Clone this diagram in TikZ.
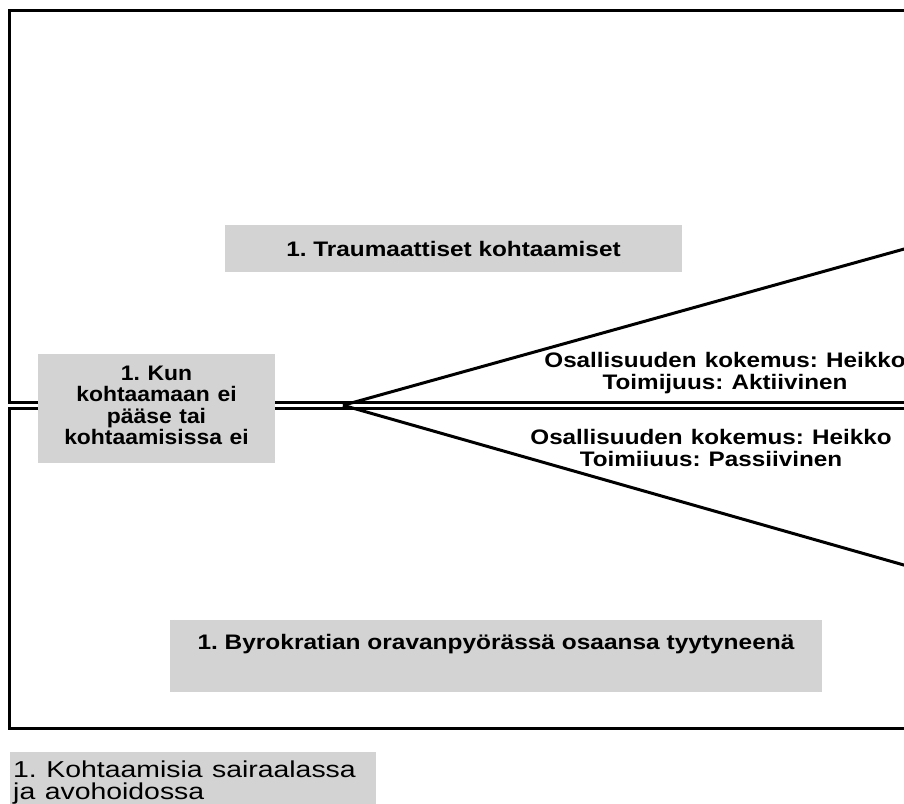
\documentclass[tikz,border=0pt]{standalone}
\usepackage{fontspec}
\setmainfont{Liberation Sans}
\frenchspacing
\definecolor{boxgray}{RGB}{211,211,211}
\newcommand{\wx}[2]{\scalebox{#1}[1]{#2}}
\begin{document}
\begin{tikzpicture}[x=1pt,y=-1pt,
  frame/.style={line width=3pt},
  edge/.style={line width=3pt},
  graybox/.style={fill=boxgray, draw=none, inner sep=0pt},
  lbl/.style={font=\fontsize{21}{22}\selectfont\bfseries\frenchspacing, align=center, inner sep=0pt}
]
\clip (0,0) rectangle (904,803);
\fill[white] (0,0) rectangle (904,803);
% frames
\draw[frame] (9.5,10) rectangle (920,402.5);
\draw[frame] (9.5,408) rectangle (920,728);
% diverging connectors
\coordinate (apex) at (343,405.3);
\coordinate (upEnd) at (920,244.6);
\coordinate (downEnd) at (920,569.6);
\draw[edge] (apex) -- (upEnd);
\draw[edge] (apex) -- (downEnd);
% gray boxes
\node[graybox, lbl, minimum width=457pt, minimum height=47pt] (trauma) at (453.5,248.5)
  {\wx{1.16}{1. Traumaattiset kohtaamiset}};
\node[graybox, lbl, text width=237pt, text height=26pt, text depth=83pt, anchor=north] (kun) at (156.5,354)
  {\wx{1.09}{1. Kun}\\[-0.5pt]\wx{1.09}{kohtaamaan ei}\\[-0.5pt]\wx{1.09}{pääse tai}\\[-0.5pt]\wx{1.09}{kohtaamisissa ei}};
\node[graybox, lbl, minimum width=652pt, text height=29.5pt, text depth=42.5pt, anchor=north] (byro) at (496,620)
  {\wx{1.165}{1. Byrokratian oravanpyörässä osaansa tyytyneenä}};
\node[graybox, anchor=north west, text width=360pt, inner xsep=3pt, inner ysep=0pt,
      text height=25pt, text depth=31pt, align=left, font=\fontsize{23}{22}\selectfont\frenchspacing] (sair) at (10,752)
  {\wx{1.235}{1. Kohtaamisia sairaalassa}\\\wx{1.235}{ja avohoidossa}};
% edge labels
\node[lbl, text width=400pt, anchor=base] (upTxt) at (725,367)
  {\wx{1.155}{Osallisuuden kokemus: Heikko}\\\wx{1.155}{Toimijuus: Aktiivinen}};
\node[lbl, text width=400pt, anchor=base] (downTxt) at (711,444)
  {\wx{1.155}{Osallisuuden kokemus: Heikko}\\\wx{1.155}{Toimiiuus: Passiivinen}};
\end{tikzpicture}
\end{document}
